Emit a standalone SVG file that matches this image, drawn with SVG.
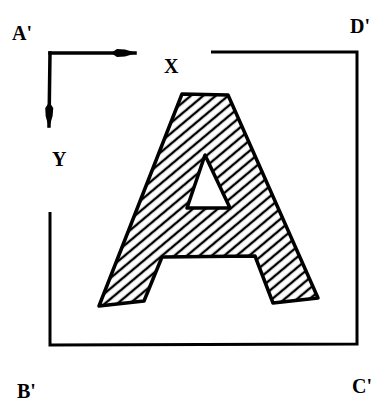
<svg xmlns="http://www.w3.org/2000/svg" width="385" height="406" viewBox="0 0 385 406">
<defs>
<style>
.lbl{font-family:"Liberation Serif","DejaVu Serif",serif;font-weight:bold;font-size:20px;fill:#000}
.frame{fill:none;stroke:#000;stroke-width:3;stroke-linejoin:miter}
.axis{fill:none;stroke:#000;stroke-width:3.5;stroke-linecap:square}
</style>
<pattern id="hatch" patternUnits="userSpaceOnUse" width="8" height="8" patternTransform="rotate(-40)">
<rect width="8" height="8" fill="#fff"/>
<line x1="0" y1="4" x2="8" y2="4" stroke="#000" stroke-width="2.4"/>
</pattern>
<marker id="spear" viewBox="0 0 26 10" refX="24" refY="5" markerWidth="26" markerHeight="10" markerUnits="userSpaceOnUse" orient="auto">
<path d="M0,5 L6,1 L14,1.5 L26,5 L14,8.5 L6,9 Z" fill="#000"/>
</marker>
</defs>
<rect width="385" height="406" fill="#fff"/>
<g id="frame">
<polyline class="frame" points="211,52 357,52 357,344 50,345 50,212"/>
</g>
<g id="connectors">
<path class="axis" d="M50,53 L135,53" marker-end="url(#spear)"/>
<path class="axis" d="M50,53 L49,126" marker-end="url(#spear)"/>
</g>
<g id="letterA">
<path d="M182,94 L228,95 L318,298 L273,303 L255,256 L162,257 L144,301 L99,306 Z M205,155 L187,208 L230,208 Z" fill="url(#hatch)" fill-rule="evenodd" stroke="#000" stroke-width="3.5" stroke-linejoin="round"/>
</g>
<g id="labels">
<text class="lbl" x="12" y="40">A'</text>
<text class="lbl" x="164" y="73">X</text>
<text class="lbl" x="52" y="166">Y</text>
<text class="lbl" x="350" y="33">D'</text>
<text class="lbl" x="17" y="398">B'</text>
<text class="lbl" x="352" y="393">C'</text>
</g>
</svg>
